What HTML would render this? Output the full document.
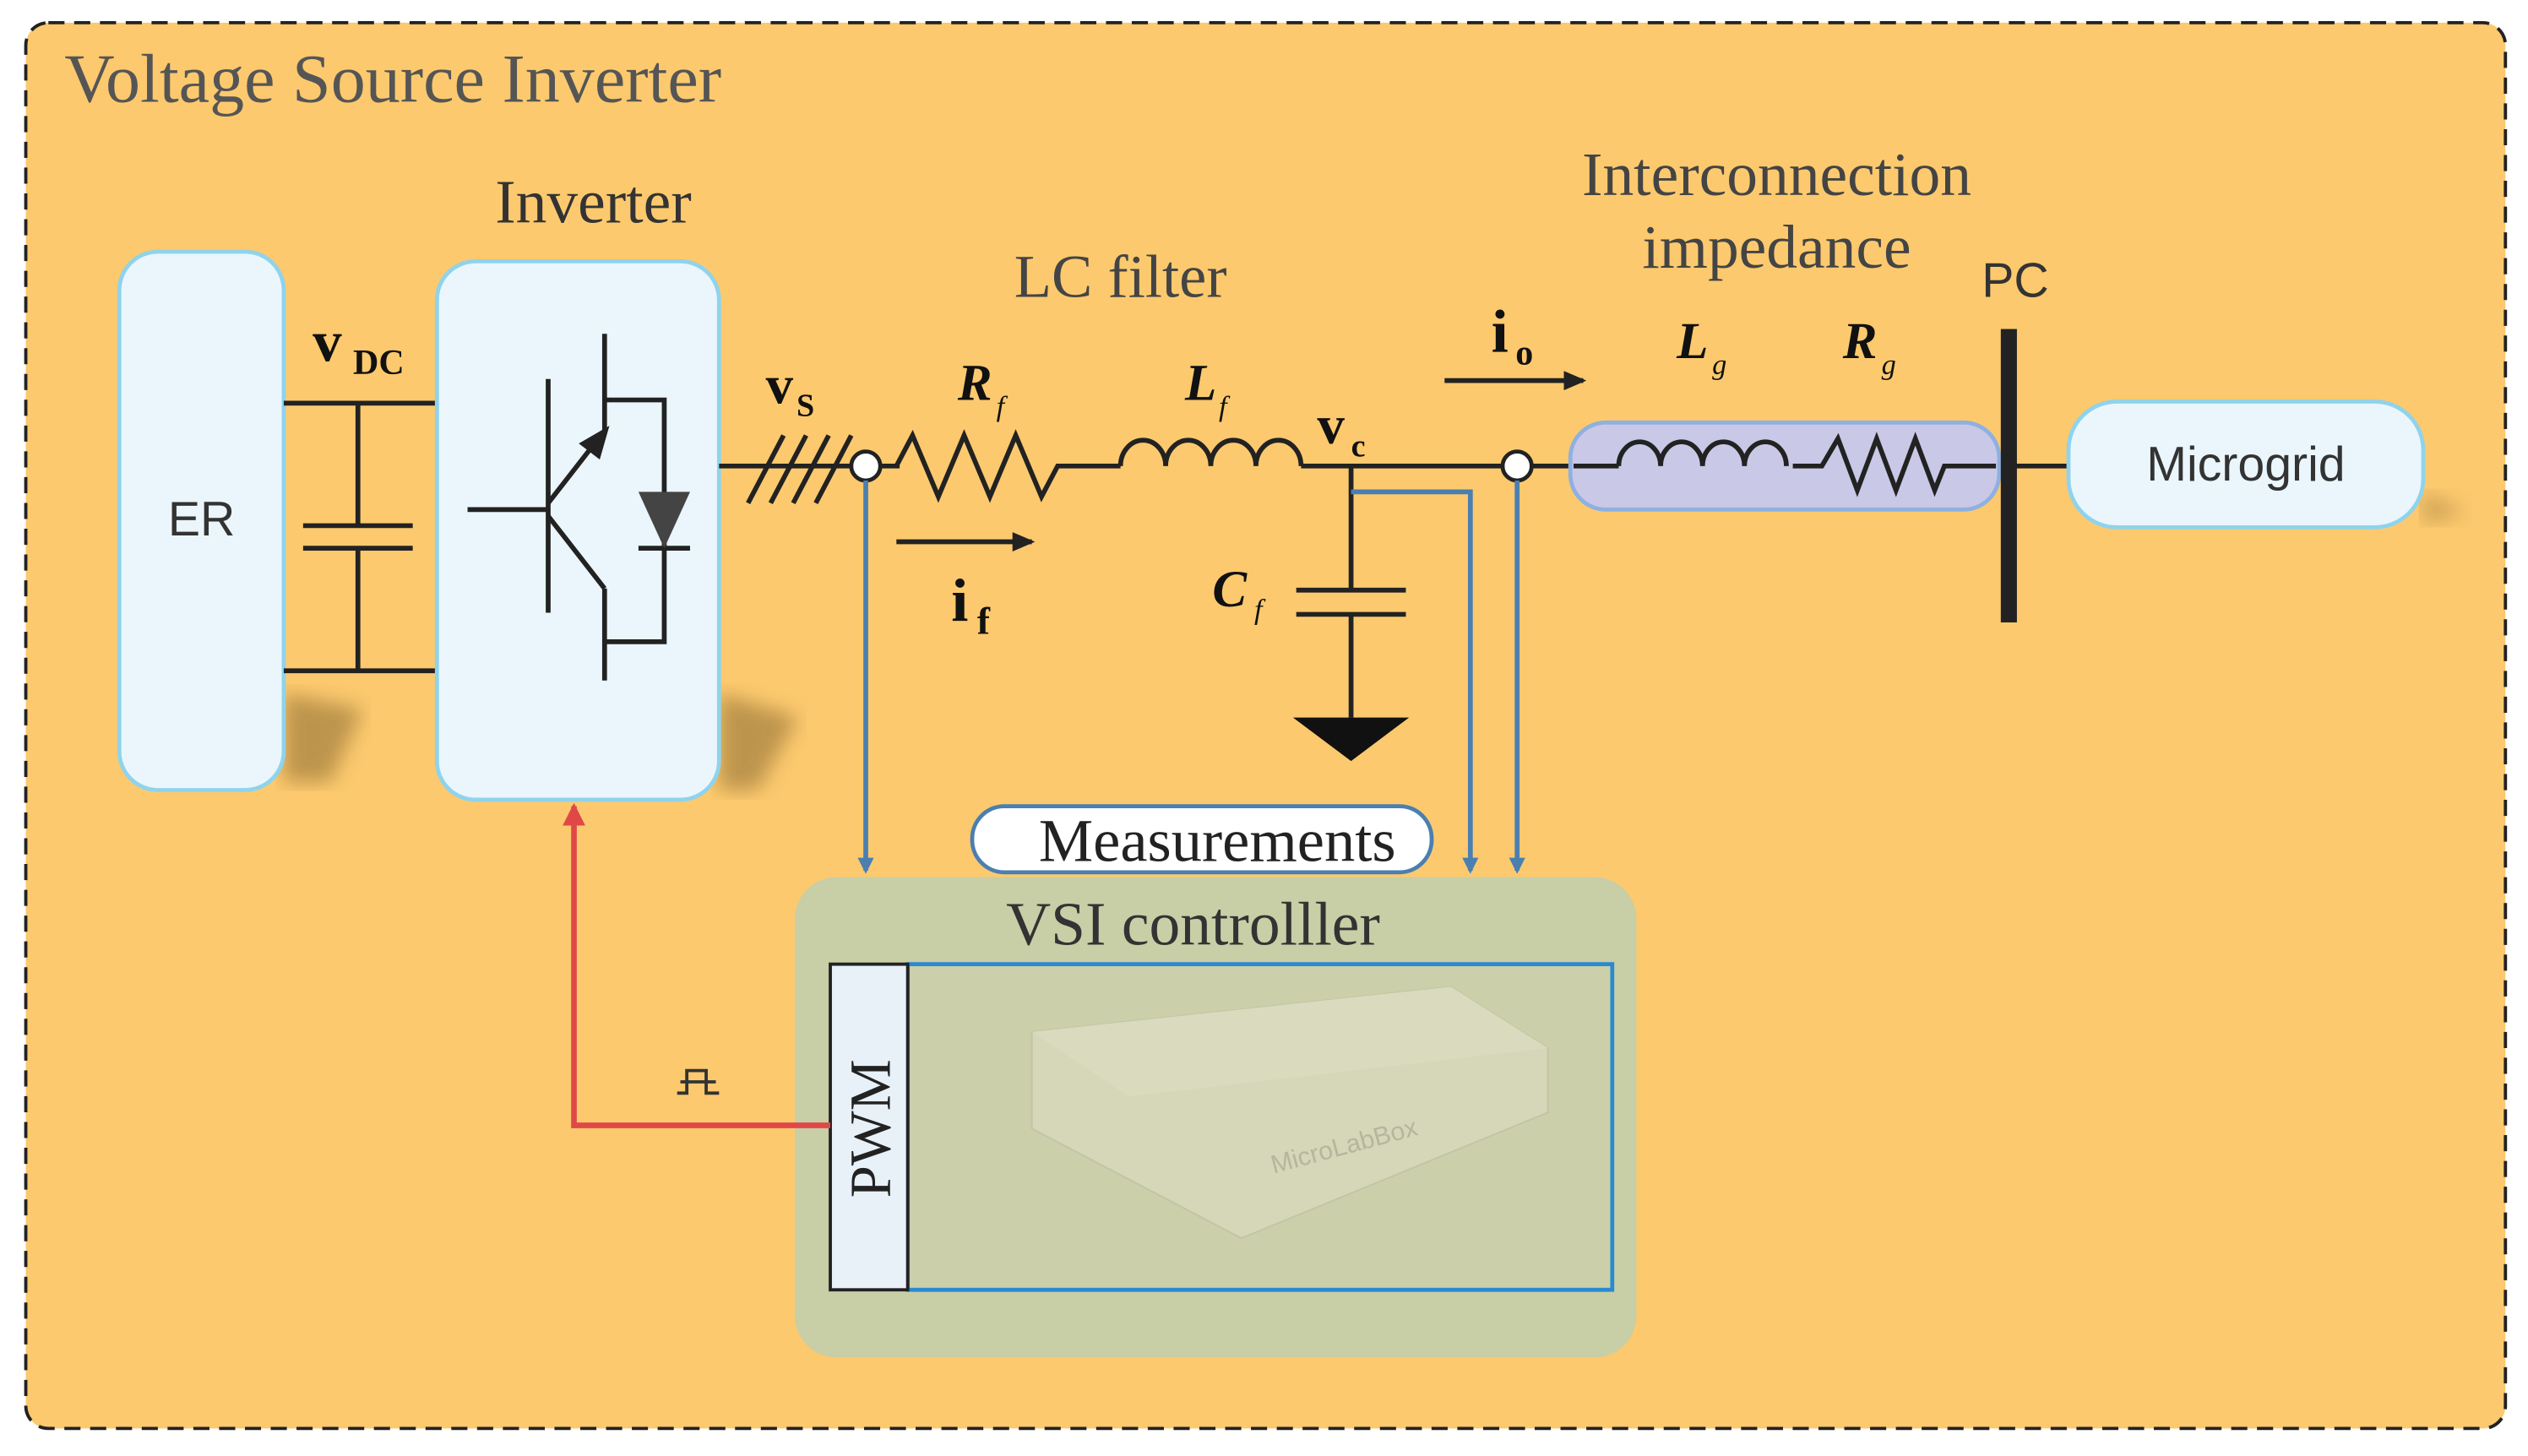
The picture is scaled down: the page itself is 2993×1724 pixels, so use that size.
<!DOCTYPE html>
<html><head><meta charset="utf-8">
<style>
html,body{margin:0;padding:0;background:#fff;}
svg{display:block;}
.serif{font-family:"Liberation Serif",serif;}
.sans{font-family:"Liberation Sans",sans-serif;}
</style></head>
<body>
<svg width="2993" height="1724" viewBox="0 0 1568 903" xmlns="http://www.w3.org/2000/svg">
<defs>
<marker id="ab" markerWidth="10" markerHeight="10" refX="8" refY="5" orient="auto" markerUnits="userSpaceOnUse"><path d="M0,0 L10,5 L0,10 z" fill="#4a7fb0"/></marker>
<marker id="ak" markerWidth="14" markerHeight="12" refX="12" refY="6" orient="auto" markerUnits="userSpaceOnUse"><path d="M0,0 L14,6 L0,12 z" fill="#222"/></marker>
<marker id="ar" markerWidth="14" markerHeight="14" refX="12" refY="7" orient="auto" markerUnits="userSpaceOnUse"><path d="M0,0 L14,7 L0,14 z" fill="#e04848"/></marker>
<filter id="bl"><feGaussianBlur stdDeviation="6"/></filter>
</defs>
<rect x="0" y="0" width="1568" height="903" fill="#fff"/>
<rect x="16" y="14" width="1538" height="872" rx="14" fill="#fcc96e" stroke="#222" stroke-width="2" stroke-dasharray="10,6"/>
<text x="40" y="63" class="serif" font-size="43" fill="#555">Voltage Source Inverter</text>

<!-- shadows -->
<polygon points="176,430 225,440 205,485 176,485" fill="#8a6a30" opacity="0.55" filter="url(#bl)"/>
<polygon points="446,430 495,445 470,490 446,490" fill="#8a6a30" opacity="0.55" filter="url(#bl)"/>
<polygon points="1503,305 1530,318 1503,325" fill="#8a6a30" opacity="0.4" filter="url(#bl)"/>

<!-- ER -->
<rect x="74" y="156" width="102" height="334" rx="24" fill="#eaf6fb" stroke="#8fd3ec" stroke-width="2.5"/>
<text x="125" y="332" class="sans" font-size="30" fill="#333" text-anchor="middle">ER</text>

<!-- DC link -->
<g stroke="#222" stroke-width="3">
<line x1="176" y1="250" x2="271" y2="250"/>
<line x1="176" y1="416" x2="271" y2="416"/>
<line x1="222" y1="250" x2="222" y2="326"/>
<line x1="222" y1="340" x2="222" y2="416"/>
<line x1="188" y1="326" x2="256" y2="326"/>
<line x1="188" y1="340" x2="256" y2="340"/>
</g>
<text x="194" y="224" class="serif" font-size="36" font-weight="bold" fill="#111">v</text>
<text x="219" y="232" class="serif" font-size="22" font-weight="bold" fill="#111">DC</text>

<!-- Inverter -->
<text x="368" y="138" class="serif" font-size="38.5" fill="#333" text-anchor="middle">Inverter</text>
<rect x="271" y="162" width="175" height="334" rx="24" fill="#eaf6fb" stroke="#8fd3ec" stroke-width="2.5"/>
<g stroke="#222" stroke-width="3" fill="none">
<line x1="290" y1="316" x2="340" y2="316"/>
<line x1="340" y1="235" x2="340" y2="380"/>
<line x1="340" y1="312" x2="375" y2="267"/>
<line x1="375" y1="267" x2="375" y2="207"/>
<line x1="340" y1="320" x2="375" y2="365"/>
<line x1="375" y1="365" x2="375" y2="422"/>
<polyline points="375,248 412,248 412,398 375,398"/>
<line x1="396" y1="340" x2="428" y2="340"/>
</g>
<polygon points="359,275 378,264 372,285" fill="#222"/>
<polygon points="396,305 428,305 412,340" fill="#444"/>

<!-- main line -->
<g stroke="#222" stroke-width="3" fill="none">
<line x1="446" y1="289" x2="528" y2="289"/>
<line x1="546" y1="289" x2="558" y2="289"/>
<polyline points="556,289 566,270 582,308 598,270 614,308 630,270 646,308 656,289 695,289"/>
<path d="M695,289 a14,16 0 0 1 28,0 a14,16 0 0 1 28,0 a14,16 0 0 1 28,0 a14,16 0 0 1 28,0"/>
<line x1="807" y1="289" x2="932" y2="289"/>
<line x1="950" y1="289" x2="976" y2="289"/>
<line x1="1238" y1="289" x2="1283" y2="289"/>
<line x1="464" y1="312" x2="486" y2="270"/>
<line x1="478" y1="312" x2="500" y2="270"/>
<line x1="492" y1="312" x2="514" y2="270"/>
<line x1="506" y1="312" x2="528" y2="270"/>
<line x1="838" y1="289" x2="838" y2="366"/>
<line x1="804" y1="366" x2="872" y2="366"/>
<line x1="804" y1="381" x2="872" y2="381"/>
<line x1="838" y1="381" x2="838" y2="445"/>
</g>
<polygon points="802,445 874,445 838,472" fill="#111"/>
<circle cx="537" cy="289" r="9" fill="#fff" stroke="#222" stroke-width="2.5"/>
<circle cx="941" cy="289" r="9" fill="#fff" stroke="#222" stroke-width="2.5"/>

<text x="475" y="250" class="serif" font-size="34" font-weight="bold" fill="#111">v</text>
<text x="494" y="258" class="serif" font-size="20" font-weight="bold" fill="#111">S</text>
<text x="695" y="184" class="serif" font-size="38" fill="#444" text-anchor="middle">LC filter</text>
<text x="594" y="248" class="serif" font-size="32" font-style="italic" font-weight="bold" fill="#111">R</text>
<text x="618" y="258" class="serif" font-size="18" font-style="italic" fill="#111">f</text>
<text x="735" y="248" class="serif" font-size="32" font-style="italic" font-weight="bold" fill="#111">L</text>
<text x="756" y="258" class="serif" font-size="18" font-style="italic" fill="#111">f</text>
<text x="817" y="275" class="serif" font-size="34" font-weight="bold" fill="#111">v</text>
<text x="838" y="283" class="serif" font-size="20" font-weight="bold" fill="#111">c</text>
<text x="752" y="376" class="serif" font-size="32" font-style="italic" font-weight="bold" fill="#111">C</text>
<text x="778" y="384" class="serif" font-size="18" font-style="italic" fill="#111">f</text>

<line x1="556" y1="336" x2="640" y2="336" stroke="#222" stroke-width="3" marker-end="url(#ak)"/>
<text x="590" y="385" class="serif" font-size="38" font-weight="bold" fill="#111">i</text>
<text x="606" y="393" class="serif" font-size="24" font-weight="bold" fill="#111">f</text>
<line x1="896" y1="236" x2="982" y2="236" stroke="#222" stroke-width="3" marker-end="url(#ak)"/>
<text x="925" y="218" class="serif" font-size="38" font-weight="bold" fill="#111">i</text>
<text x="940" y="226" class="serif" font-size="22" font-weight="bold" fill="#111">o</text>

<!-- Interconnection -->
<text x="1102" y="121" class="serif" font-size="38.5" fill="#444" text-anchor="middle">Interconnection</text>
<text x="1102" y="166" class="serif" font-size="38.5" fill="#444" text-anchor="middle">impedance</text>
<text x="1040" y="222" class="serif" font-size="32" font-style="italic" font-weight="bold" fill="#111">L</text>
<text x="1062" y="232" class="serif" font-size="18" font-style="italic" fill="#111">g</text>
<text x="1143" y="222" class="serif" font-size="32" font-style="italic" font-weight="bold" fill="#111">R</text>
<text x="1167" y="232" class="serif" font-size="18" font-style="italic" fill="#111">g</text>
<rect x="974" y="262" width="266" height="54" rx="22" fill="#c9c8e6" stroke="#8fb0e0" stroke-width="2.5"/>
<g stroke="#222" stroke-width="3" fill="none">
<line x1="976" y1="289" x2="1004" y2="289"/>
<path d="M1004,289 a13,15 0 0 1 26,0 a13,15 0 0 1 26,0 a13,15 0 0 1 26,0 a13,15 0 0 1 26,0"/>
<polyline points="1112,289 1130,289 1140,272 1152,304 1164,272 1176,304 1188,272 1200,304 1206,289 1238,289"/>
</g>
<text x="1250" y="184" class="sans" font-size="30" fill="#333" text-anchor="middle">PC</text>
<rect x="1241" y="204" width="10" height="182" fill="#222"/>
<rect x="1283" y="249" width="220" height="78" rx="30" fill="#eaf6fb" stroke="#8fd3ec" stroke-width="2.5"/>
<text x="1393" y="298" class="sans" font-size="30" fill="#333" text-anchor="middle">Microgrid</text>

<!-- blue measurement lines -->
<g stroke="#4a7fb0" stroke-width="3" fill="none">
<line x1="537" y1="298" x2="537" y2="540" marker-end="url(#ab)"/>
<polyline points="838,305 912,305 912,540" marker-end="url(#ab)"/>
<line x1="941" y1="298" x2="941" y2="540" marker-end="url(#ab)"/>
</g>

<!-- VSI controller -->
<rect x="493" y="544" width="522" height="298" rx="26" fill="#c8cea6"/>
<rect x="603" y="500" width="285" height="41" rx="20" fill="#fff" stroke="#4a7fb0" stroke-width="2.5"/>
<text x="755" y="534" class="serif" font-size="38" fill="#222" text-anchor="middle">Measurements</text>
<text x="740" y="586" class="serif" font-size="38.5" fill="#333" text-anchor="middle">VSI controlller</text>
<rect x="563" y="598" width="437" height="202" fill="#ccd0aa" stroke="#2a8ad0" stroke-width="2.5"/>
<g opacity="0.35">
<polygon points="640,640 900,612 960,650 960,690 770,768 640,700" fill="#e8e6d8" stroke="#b0ae9a"/>
<polygon points="640,640 900,612 960,650 700,680" fill="#f2f0e6"/>
<text x="790" y="728" class="sans" font-size="16" fill="#888" transform="rotate(-15 790 728)">MicroLabBox</text>
</g>
<rect x="515" y="598" width="48" height="202" fill="#e8f0f8" stroke="#222" stroke-width="2"/>
<text x="0" y="0" class="serif" font-size="36" fill="#222" text-anchor="middle" transform="translate(552 700) rotate(-90)">PWM</text>

<!-- red gating -->
<polyline points="515,698 356,698 356,500" fill="none" stroke="#e04848" stroke-width="3.5" marker-end="url(#ar)"/>
<g stroke="#333" stroke-width="2" fill="none">
<polyline points="420,678 426,678 426,664 438,664 438,678 446,678"/>
<polyline points="422,671 444,671"/>
</g>
</svg>
</body></html>
